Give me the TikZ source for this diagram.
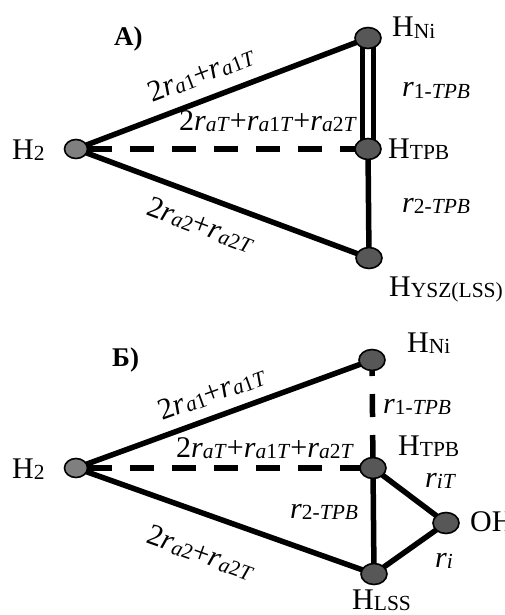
\documentclass[tikz,border=0pt]{standalone}
\usepackage{fontspec}
\setmainfont{Liberation Serif}
\usetikzlibrary{shapes.geometric,backgrounds}

\definecolor{siteGray}{HTML}{575757}
\definecolor{gasGray}{HTML}{7F7F7F}

\newcommand\mainsize{\fontsize{30}{33}\selectfont}
\newcommand\subsize{\fontsize{21.5}{24}\selectfont}
\newcommand\lw[1]{\raisebox{-1.5pt}{\subsize #1}}
\newcommand\ri{\textit{r}}

\tikzset{
  x=1pt, y=-1pt,
  every node/.style={font=\mainsize, inner sep=0pt},
  site/.style={ellipse, draw=black, line width=1.6pt, fill=siteGray,
    minimum width=26pt, minimum height=21pt},
  gassite/.style={site, fill=gasGray, minimum width=23pt, minimum height=19pt},
  bond/.style={line width=5.5pt},
  dashbond/.style={bond, dash pattern=on 24pt off 18pt},
  dblbond/.style={line width=5.5pt, double=white, double distance=5.5pt},
  lbl/.style={anchor=base west},
  rate/.style={anchor=center},
  panel/.style={anchor=base west, font=\fontsize{27}{30}\selectfont\bfseries},
}

\begin{document}
\begin{tikzpicture}
\useasboundingbox (0,0) rectangle (505,615);

% ---------- panel A ----------
\node[gassite] (h2a)  at (76,149) {};
\node[site]    (nia)  at (368,38) {};
\node[site]    (tpba) at (368,149) {};
\node[site]    (ysza) at (369,258) {};

\node[panel] (titlea) at (114,46) {A)};
\node[lbl] (th2a)  at (12,159)  {H\lw{2}};
\node[lbl] (tnia)  at (392,37)  {H\lw{Ni}};
\node[lbl] (ttpba) at (388,158) {H\lw{TPB}};
\node[lbl] (tysza) at (389,296) {H\lw{YSZ(LSS)}};
\node[lbl] (r1a)   at (402,97)  {\ri\lw{1-\textit{TPB}}};
\node[lbl] (r2a)   at (402,212) {\ri\lw{2-\textit{TPB}}};
\node[rate, rotate=20.8]  (ua) at (201,74)
  {2\ri\lw{\textit{a}1}+\ri\lw{\textit{a}1\textit{T}}};
\node[lbl] (ma) at (179,130)
  {2\ri\lw{\textit{aT}}+\ri\lw{\textit{a}1\textit{T}}+\ri\lw{\textit{a}2\textit{T}}};
\node[rate, rotate=-20.4] (la) at (201,225)
  {2\ri\lw{\textit{a}2}+\ri\lw{\textit{a}2\textit{T}}};

\begin{scope}[on background layer]
  \draw[bond] (h2a.center) -- (nia.center);
  \draw[bond] (h2a.center) -- (ysza.center);
  \draw[dashbond, dash phase=30pt] (h2a.center) -- (tpba.center);
  \draw[dblbond] (nia.center) -- (tpba.center);
  \draw[bond] (tpba.center) -- (ysza.center);
\end{scope}

% ---------- panel B ----------
\node[gassite] (h2b)  at (76,468) {};
\node[site]    (nib)  at (372,360) {};
\node[site]    (tpbb) at (373,468) {};
\node[site]    (lssb) at (374,574) {};
\node[site]    (ohb)  at (446,523) {};

\node[panel] (titleb) at (112,366) {Б)};
\node[lbl] (th2b)  at (12,478)  {H\lw{2}};
\node[lbl] (tnib)  at (407,352) {H\lw{Ni}};
\node[lbl] (ttpbb) at (398,455) {H\lw{TPB}};
\node[lbl] (tlssb) at (352,609) {H\lw{LSS}};
\node[lbl] (tohb)  at (470,531) {OH};
\node[lbl] (r1b)   at (383,413) {\ri\lw{1-\textit{TPB}}};
\node[lbl] (r2b)   at (290,518) {\ri\lw{2-\textit{TPB}}};
\node[lbl] (ritb)  at (425,487) {\ri\lw{\textit{iT}}};
\node[lbl] (rib)   at (435,567) {\ri\lw{\textit{i}}};
\node[rate, rotate=20.0]  (ub) at (212,393)
  {2\ri\lw{\textit{a}1}+\ri\lw{\textit{a}1\textit{T}}};
\node[lbl] (mb) at (176,457)
  {2\ri\lw{\textit{aT}}+\ri\lw{\textit{a}1\textit{T}}+\ri\lw{\textit{a}2\textit{T}}};
\node[rate, rotate=-19.5] (lb) at (201,553)
  {2\ri\lw{\textit{a}2}+\ri\lw{\textit{a}2\textit{T}}};

\begin{scope}[on background layer]
  \draw[bond] (h2b.center) -- (nib.center);
  \draw[bond] (h2b.center) -- (lssb.center);
  \draw[dashbond, dash phase=30pt] (h2b.center) -- (tpbb.center);
  \draw[bond, dash pattern=on 23pt off 18pt, dash phase=7pt] (nib.center) -- (tpbb.center);
  \draw[bond] (tpbb.center) -- (lssb.center);
  \draw[bond] (tpbb.center) -- (ohb.center);
  \draw[bond] (lssb.center) -- (ohb.center);
\end{scope}
\end{tikzpicture}
\end{document}
